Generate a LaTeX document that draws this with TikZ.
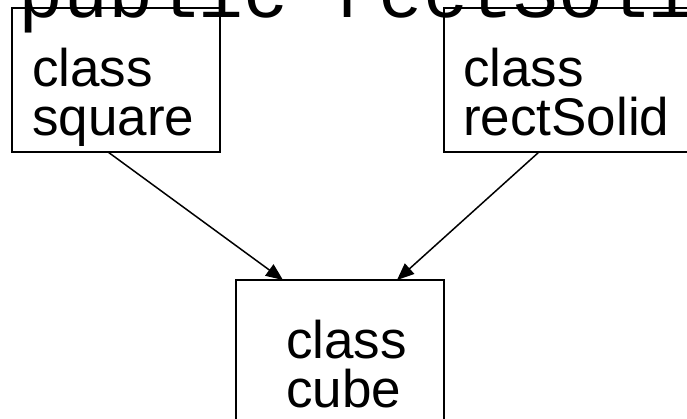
\documentclass[tikz,border=0pt]{standalone}
\usepackage{fontspec}
\setmainfont{Liberation Sans}
\newfontfamily\codefont{Liberation Mono}
\usetikzlibrary{arrows.meta}

\tikzset{
  classbox/.style={draw, line width=1.8pt, inner sep=0pt, outer sep=0pt,
    anchor=north west, minimum height=#1},
  classbox/.default=144pt,
  % base anchor of a two-line name sits on its second line
  classname/.style={anchor=base west, align=left, inner sep=0pt,
    font=\fontsize{53}{49}\selectfont},
  inherits/.style={-{Triangle[length=17pt,width=14pt]}, line width=1.5pt},
  codeline/.style={anchor=base west, inner sep=0pt,
    font=\codefont\fontsize{75}{80}\selectfont}
}

\begin{document}
\begin{tikzpicture}[x=1pt, y=-1pt]
  \useasboundingbox (0,0) rectangle (687,419);
  \clip (0,0) rectangle (687,419);

  % source line running across the top edge
  \node[codeline] (code) at (18,18) {public rectSoli};

  % class boxes
  \node[classbox, minimum width=208pt] (square) at (12,8) {};
  \node[classbox, minimum width=260pt] (rect) at (444,8) {};
  \node[classbox, minimum width=208pt] (cube) at (236,280) {};

  % class names
  \node[classname] (squarelbl) at (32,136) {class\\square};
  \node[classname] (rectlbl) at (463,136) {class\\rectSolid};
  \node[classname] (cubelbl) at (286,407) {class\\cube};

  % inheritance arrows
  \draw[inherits] ([xshift=-8pt]square.south) -- ([xshift=-57pt]cube.north);
  \draw[inherits] ([xshift=-35pt]rect.south) -- ([xshift=57pt]cube.north);
\end{tikzpicture}
\end{document}
